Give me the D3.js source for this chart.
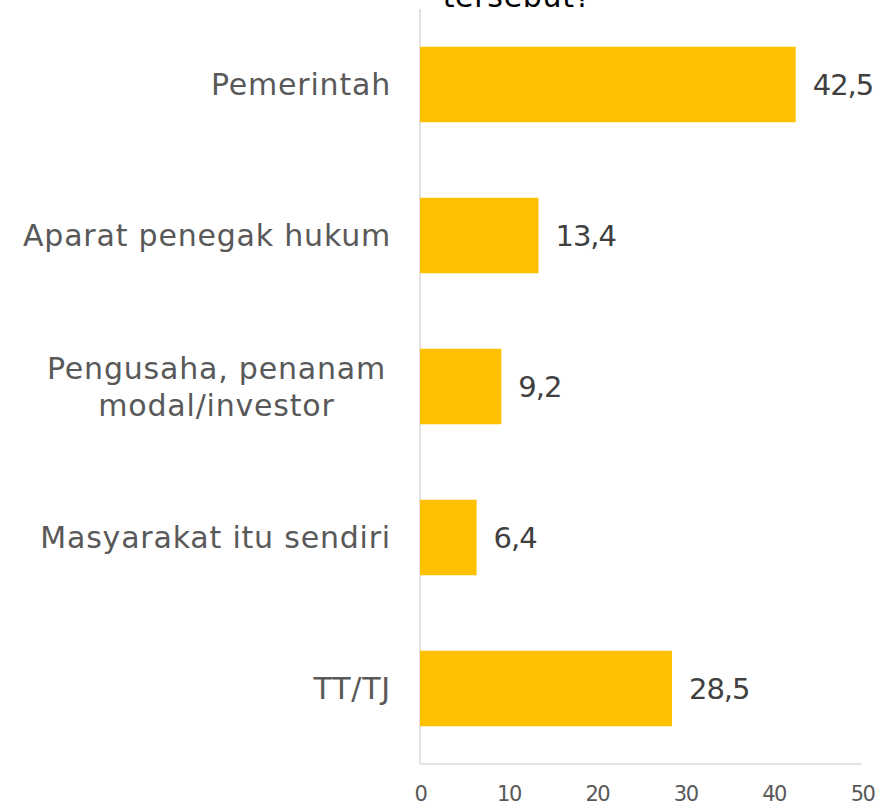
<!DOCTYPE html>
<html>
<head>
<meta charset="utf-8">
<script src="https://cdn.jsdelivr.net/npm/d3@7"></script>
<style>
  html, body { margin: 0; padding: 0; background: #fff; }
  svg { display: block; font-family: "Century Gothic", "DejaVu Sans", sans-serif; }
</style>
</head>
<body>
<svg id="chart" width="879" height="806"></svg>
<script>
// data
const categories = ["Pemerintah", "Aparat penegak hukum", "Pengusaha, penanam modal/investor", "Masyarakat itu sendiri", "TT/TJ"];
const labelLines = [["Pemerintah"], ["Aparat penegak hukum"], ["Pengusaha, penanam", "modal/investor"], ["Masyarakat itu sendiri"], ["TT/TJ"]];
const values = [42.5, 13.4, 9.2, 6.4, 28.5];
const xTicks = [0, 10, 20, 30, 40, 50];
const titleText = "tersebut?";

const svg = d3.select("#chart");
const width = 879, height = 806;
const margin = { top: 9, right: 17, bottom: 42, left: 420 };

const x = d3.scaleLinear()
    .domain([0, 50])
    .range([margin.left, width - margin.right]);

const y = d3.scaleBand()
    .domain(categories)
    .range([margin.top, height - margin.bottom])
    .paddingInner(0.5)
    .paddingOuter(0.25);

// judul (terpotong di atas, seperti aslinya)
svg.append("text")
    .attr("x", 517)
    .attr("y", 7)
    .attr("text-anchor", "middle")
    .attr("fill", "#000")
    .style("font-size", "30px")
    .style("letter-spacing", "0.7px")
    .text(titleText);

// sumbu
svg.append("line")
    .attr("x1", x(0)).attr("x2", x(0))
    .attr("y1", margin.top).attr("y2", height - margin.bottom)
    .attr("stroke", "#d9d9d9").attr("stroke-width", 1.5);

svg.append("line")
    .attr("x1", x(0)).attr("x2", x(50))
    .attr("y1", height - margin.bottom).attr("y2", height - margin.bottom)
    .attr("stroke", "#d9d9d9").attr("stroke-width", 1.5);

const xAxis = svg.append("g")
    .attr("transform", `translate(0,${height - margin.bottom})`)
    .call(d3.axisBottom(x).tickValues(xTicks).tickSize(0).tickPadding(22));
xAxis.select(".domain").remove();
xAxis.selectAll("text")
    .attr("fill", "#595959")
    .style("font-size", "21px")
    .style("letter-spacing", "-1.5px")
    .style("font-family", "\"Century Gothic\", \"DejaVu Sans\", sans-serif");

// batang
svg.selectAll("rect.bar")
    .data(values)
    .join("rect")
    .attr("class", "bar")
    .attr("x", x(0))
    .attr("y", (d, i) => y(categories[i]))
    .attr("width", d => x(d) - x(0))
    .attr("height", y.bandwidth())
    .attr("fill", "#FFC000");

// label nilai
svg.selectAll("text.val")
    .data(values)
    .join("text")
    .attr("class", "val")
    .attr("x", d => x(d) + 17)
    .attr("y", (d, i) => y(categories[i]) + y.bandwidth() / 2)
    .attr("dy", "0.36em")
    .attr("fill", "#404040")
    .style("font-size", "29px")
    .style("letter-spacing", "-1px")
    .text(d => d3.format(".1f")(d).replace(".", ","));

// label kategori
const cat = svg.selectAll("text.cat")
    .data(categories)
    .join("text")
    .attr("class", "cat")
    .attr("fill", "#595959")
    .style("font-size", "30px")
    .style("letter-spacing", "0.8px");

cat.each(function(d, i) {
    const lines = labelLines[i];
    const cy = y(d) + y.bandwidth() / 2;
    const t = d3.select(this);
    const multi = lines.length > 1;
    t.attr("text-anchor", multi ? "middle" : "end");
    lines.forEach((ln, j) => {
        t.append("tspan")
            .attr("x", multi ? 216.5 : 391)
            .attr("y", cy + (j - (lines.length - 1) / 2) * 37)
            .attr("dy", "0.36em")
            .text(ln);
    });
});
</script>
</body>
</html>
